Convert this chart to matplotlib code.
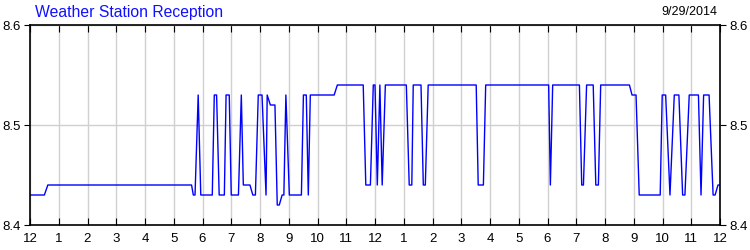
import matplotlib.pyplot as plt

plt.rcParams['font.family'] = ['Liberation Sans', 'DejaVu Sans']

# hours since midnight, reception value
hours = [0.00, 0.50, 0.62, 5.62, 5.68, 5.74, 5.85, 5.94, 6.34, 6.41, 6.49, 6.58,
         6.76, 6.82, 6.93, 7.00, 7.25, 7.35, 7.42, 7.65, 7.75, 7.84, 7.94, 8.07,
         8.21, 8.25, 8.36, 8.52, 8.60, 8.67, 8.77, 8.83, 8.90, 9.02, 9.44, 9.51,
         9.61, 9.68, 9.75, 10.58, 10.69, 11.59, 11.68, 11.84, 11.94, 12.00, 12.08,
         12.17, 12.25, 12.36, 13.09, 13.19, 13.28, 13.33, 13.60, 13.68, 13.75,
         13.85, 15.52, 15.59, 15.77, 15.85, 18.04, 18.10, 18.18, 19.11, 19.19,
         19.25, 19.36, 19.59, 19.68, 19.77, 19.85, 20.85, 20.94, 21.08, 21.19,
         21.92, 21.99, 22.11, 22.26, 22.41, 22.57, 22.70, 22.78, 22.93, 23.25,
         23.34, 23.43, 23.62, 23.76, 23.83, 23.93, 24.00]
values = [8.43, 8.43, 8.44, 8.44, 8.43, 8.43, 8.53, 8.43, 8.43, 8.53, 8.53, 8.43,
          8.43, 8.53, 8.53, 8.43, 8.43, 8.53, 8.44, 8.44, 8.43, 8.43, 8.53, 8.53,
          8.43, 8.53, 8.52, 8.52, 8.42, 8.42, 8.43, 8.43, 8.53, 8.43, 8.43, 8.53,
          8.53, 8.43, 8.53, 8.53, 8.54, 8.54, 8.44, 8.44, 8.54, 8.54, 8.44,
          8.54, 8.44, 8.54, 8.54, 8.44, 8.44, 8.54, 8.54, 8.44, 8.44,
          8.54, 8.54, 8.44, 8.44, 8.54, 8.54, 8.44, 8.54, 8.54, 8.44,
          8.44, 8.54, 8.54, 8.44, 8.44, 8.54, 8.54, 8.53, 8.53, 8.43,
          8.43, 8.53, 8.53, 8.43, 8.53, 8.53, 8.43, 8.43, 8.53, 8.53,
          8.43, 8.53, 8.53, 8.43, 8.43, 8.44, 8.44]

hour_labels = ['12'] + [str(h) for h in range(1, 12)] + ['12'] + [str(h) for h in range(1, 12)] + ['12']
y_ticks = [8.4, 8.5, 8.6]

fig = plt.figure(figsize=(7.5, 2.5), dpi=100)
ax = fig.add_axes([30 / 750, 25 / 250, 690 / 750, 200 / 250])

ax.plot(hours, values, color='#0000ff', lw=1)

ax.set_xlim(0, 24)
ax.set_ylim(8.4, 8.6)
ax.set_xticks(range(25))
ax.set_xticklabels(hour_labels, fontsize=9.5)
ax.set_yticks(y_ticks)
ax.set_yticklabels(['8.4', '8.5', '8.6'], fontsize=9.5)
ax.grid(True, color='#d0d0d0', lw=1)
ax.set_axisbelow(True)

ax.tick_params(axis='x', direction='in', top=True, length=5, pad=6, color='black')
ax.tick_params(axis='y', direction='out', left=True, right=True, labelright=True,
               length=4, pad=3)
for s in ax.spines.values():
    s.set_color('black')
    s.set_linewidth(1.2)

fig.text(35 / 750, 1 - 12 / 250, 'Weather Station Reception', color='#1010ff',
         fontsize=11.3, va='center', ha='left')
fig.text(717 / 750, 1 - 12 / 250, '9/29/2014', color='black',
         fontsize=9, va='center', ha='right')

fig.savefig('out.png', dpi=100)
